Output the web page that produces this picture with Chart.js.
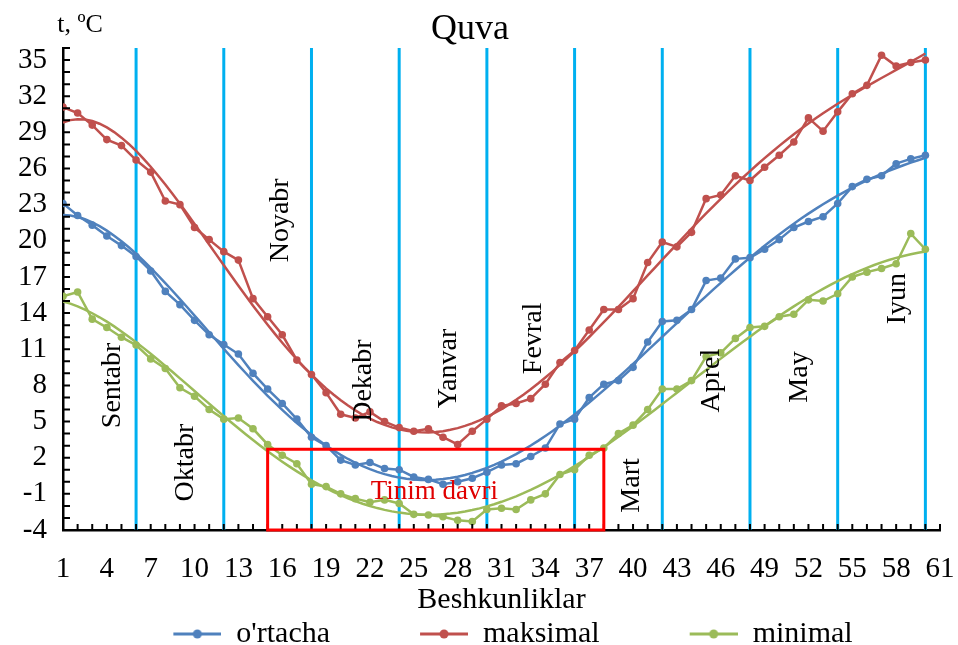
<!DOCTYPE html>
<html>
<head>
<meta charset="utf-8">
<title>Quva</title>
<script src="https://cdn.jsdelivr.net/npm/chart.js@4.4.1/dist/chart.umd.min.js"></script>
<style>
  html, body { margin: 0; padding: 0; background: #fff; overflow: hidden; }
  canvas { display: block; }
</style>
</head>
<body>
<canvas id="chart" width="958" height="659"></canvas>
<script>
// besh kunlik davrlar (1..60)
const periods = [1,2,3,4,5,6,7,8,9,10,11,12,13,14,15,16,17,18,19,20,
  21,22,23,24,25,26,27,28,29,30,31,32,33,34,35,36,37,38,39,40,
  41,42,43,44,45,46,47,48,49,50,51,52,53,54,55,56,57,58,59,60];

const ortacha = [23.1,22.1,21.3,20.4,19.6,18.7,17.5,15.8,14.7,13.4,
  12.2,11.4,10.6,9.0,7.7,6.5,5.2,3.7,3.0,1.8,
  1.4,1.6,1.1,1.0,0.4,0.2,-0.2,0.0,0.3,0.8,
  1.4,1.5,2.1,2.8,4.8,5.2,7.0,8.1,8.4,9.5,
  11.6,13.3,13.4,14.3,16.7,16.9,18.5,18.6,19.3,20.1,
  21.1,21.6,22.0,23.1,24.5,25.1,25.4,26.4,26.8,27.1];

const maksimal = [31.1,30.6,29.6,28.4,27.9,26.7,25.7,23.3,23.0,21.1,
  20.1,19.1,18.4,15.2,13.7,12.2,10.1,8.9,7.4,5.6,
  5.3,5.8,5.0,4.5,4.2,4.4,3.7,3.1,4.2,5.2,
  6.3,6.5,6.9,8.1,9.9,10.9,12.6,14.3,14.3,15.2,
  18.2,19.9,19.5,20.7,23.5,23.8,25.4,25.0,26.1,27.1,
  28.2,30.2,29.1,30.7,32.2,32.9,35.4,34.5,34.8,35.0];

const minimal = [15.4,15.75,13.5,12.8,12.0,11.35,10.2,9.4,7.8,7.1,
  6.0,5.2,5.3,4.4,3.1,2.2,1.5,-0.2,-0.4,-1.0,
  -1.4,-1.7,-1.5,-1.8,-2.7,-2.75,-2.9,-3.2,-3.3,-2.3,
  -2.2,-2.3,-1.5,-1.0,0.6,1.0,2.2,2.8,4.0,4.7,
  6.0,7.7,7.7,8.4,10.4,10.7,11.9,12.8,12.9,13.7,
  13.9,15.1,15.0,15.6,17.0,17.4,17.7,18.1,20.6,19.3];

const seriesNames = ["o'rtacha", 'maksimal', 'minimal'];
const xTickLabels = [1,4,7,10,13,16,19,22,25,28,31,34,37,40,43,46,49,52,55,58,61];
const yTickLabels = [-4,-1,2,5,8,11,14,17,20,23,26,29,32,35];

// oy chegaralari va oy nomlari
const monthBounds = [6,12,18,24,30,36,42,48,54,60];
const monthNames = ['Sentabr','Oktabr','Noyabr','Dekabr','Yanvar','Fevral','Mart','Aprel','May','Iyun'];
// tinim davri (beshkunliklar)
const restFrom = 15, restTo = 38, restTop = 2.7;

// --- ko'rinish ---
const colors = ['#4F81BD', '#C0504D', '#9BBB59'];
const monthLabelAt = [[4.4,8.0],[9.4,1.6],[15.9,21.7],[21.6,8.4],[27.4,9.4],[33.2,11.9],[39.9,-0.3],[45.4,8.4],[51.4,8.7],[58.1,15.2]];
const serif = "'Liberation Serif', 'Times New Roman', serif";

Chart.defaults.font.family = serif;
Chart.defaults.color = '#000';

function toPoints(values) {
  return periods.map((p, i) => ({x: p, y: values[i]}));
}

// Excel dagi polinomial trend chizig'i (eng kichik kvadratlar)
function polyTrend(values, deg) {
  const x0 = (periods[0] + periods[periods.length - 1]) / 2;
  const s = (periods[periods.length - 1] - periods[0]) / 2;
  const n = deg + 1;
  const A = [], b = [];
  for (let r = 0; r < n; r++) { A.push(new Array(n).fill(0)); b.push(0); }
  periods.forEach((p, i) => {
    const t = (p - x0) / s;
    const pw = [1];
    for (let k = 1; k < n; k++) pw.push(pw[k - 1] * t);
    for (let r = 0; r < n; r++) {
      for (let c = 0; c < n; c++) A[r][c] += pw[r] * pw[c];
      b[r] += pw[r] * values[i];
    }
  });
  for (let col = 0; col < n; col++) {
    let piv = col;
    for (let r = col + 1; r < n; r++) if (Math.abs(A[r][col]) > Math.abs(A[piv][col])) piv = r;
    [A[col], A[piv]] = [A[piv], A[col]];
    [b[col], b[piv]] = [b[piv], b[col]];
    for (let r = col + 1; r < n; r++) {
      const f = A[r][col] / A[col][col];
      for (let c = col; c < n; c++) A[r][c] -= f * A[col][c];
      b[r] -= f * b[col];
    }
  }
  const coef = new Array(n).fill(0);
  for (let r = n - 1; r >= 0; r--) {
    let sum = b[r];
    for (let c = r + 1; c < n; c++) sum -= A[r][c] * coef[c];
    coef[r] = sum / A[r][r];
  }
  const pts = [];
  for (let x = periods[0]; x <= periods[periods.length - 1]; x += 0.5) {
    const t = (x - x0) / s;
    let y = 0, pw = 1;
    for (let k = 0; k < n; k++) { y += coef[k] * pw; pw *= t; }
    pts.push({x: x, y: y});
  }
  return pts;
}

function legendIcon(color) {
  const c = document.createElement('canvas');
  c.width = 134; c.height = 12;
  const g = c.getContext('2d');
  g.strokeStyle = color; g.lineWidth = 3;
  g.beginPath(); g.moveTo(86, 6); g.lineTo(134, 6); g.stroke();
  g.fillStyle = color;
  g.beginPath(); g.arc(110, 6, 4.5, 0, Math.PI * 2); g.fill();
  return c;
}
const legendIcons = colors.map(legendIcon);

const seriesData = [ortacha, maksimal, minimal];
const datasets = [];
seriesData.forEach((vals, i) => {
  datasets.push({
    label: seriesNames[i],
    data: toPoints(vals),
    borderColor: colors[i],
    backgroundColor: colors[i],
    borderWidth: 2.5,
    pointRadius: 3.8,
    pointBorderWidth: 0,
    pointBackgroundColor: colors[i],
    tension: 0
  });
});
seriesData.forEach((vals, i) => {
  datasets.push({
    label: seriesNames[i] + ' trend',
    data: polyTrend(vals, 5),
    borderColor: colors[i],
    borderWidth: 2.5,
    pointRadius: 0,
    tension: 0
  });
});

const decorations = {
  id: 'decorations',
  beforeDatasetsDraw(chart) {
    const {ctx, chartArea: a, scales: {x, y}} = chart;
    ctx.save();
    ctx.strokeStyle = '#00B0F0';
    ctx.lineWidth = 3;
    monthBounds.forEach(m => {
      const px = x.getPixelForValue(m);
      ctx.beginPath(); ctx.moveTo(px, a.top); ctx.lineTo(px, a.bottom); ctx.stroke();
    });
    ctx.restore();
  },
  afterDatasetsDraw(chart) {
    const {ctx, chartArea: a, scales: {x, y}} = chart;
    ctx.save();
    // ichkariga qaragan belgilar
    ctx.strokeStyle = '#000';
    ctx.lineWidth = 2;
    ctx.beginPath();
    x.ticks.forEach(t => {
      const px = x.getPixelForValue(t.value);
      ctx.moveTo(px, a.bottom); ctx.lineTo(px, a.bottom - 6);
    });
    y.ticks.forEach(t => {
      const py = y.getPixelForValue(t.value);
      ctx.moveTo(a.left, py); ctx.lineTo(a.left + 7, py);
    });
    ctx.stroke();

    // tinim davri
    const rx1 = x.getPixelForValue(restFrom), rx2 = x.getPixelForValue(restTo);
    const ry1 = y.getPixelForValue(restTop), ry2 = y.getPixelForValue(-4);
    ctx.strokeStyle = '#FF0000';
    ctx.lineWidth = 3;
    ctx.strokeRect(rx1, ry1, rx2 - rx1, ry2 - ry1);
    ctx.fillStyle = '#E00000';
    ctx.font = '27px ' + serif;
    ctx.textAlign = 'center';
    ctx.textBaseline = 'middle';
    ctx.fillText('Tinim davri', x.getPixelForValue(26.4), y.getPixelForValue(-0.85));

    // oy nomlari
    ctx.fillStyle = '#000';
    ctx.font = '28px ' + serif;
    monthNames.forEach((name, i) => {
      ctx.save();
      ctx.translate(x.getPixelForValue(monthLabelAt[i][0]), y.getPixelForValue(monthLabelAt[i][1]));
      ctx.rotate(-Math.PI / 2);
      ctx.fillText(name, 0, 0);
      ctx.restore();
    });

    // o'q nomi
    ctx.font = '26px ' + serif;
    ctx.fillText('t, \u00BAC', a.left + 17, 25);
    ctx.restore();
  }
};

new Chart(document.getElementById('chart'), {
  type: 'line',
  data: {datasets: datasets},
  options: {
    responsive: false,
    animation: false,
    layout: {padding: {left: 0, right: 18, top: 0, bottom: 0}},
    plugins: {
      title: {
        display: true,
        text: 'Quva',
        font: {size: 36, weight: 'normal', lineHeight: 1},
        padding: {top: 12, bottom: 0},
        color: '#000'
      },
      legend: {
        position: 'bottom',
        labels: {
          usePointStyle: true,
          pointStyleWidth: 134,
          boxHeight: 12,
          padding: 4,
          font: {size: 30},
          color: '#000',
          generateLabels(chart) {
            return Chart.defaults.plugins.legend.labels.generateLabels(chart)
              .filter(item => item.datasetIndex < 3)
              .map(item => Object.assign(item, {pointStyle: legendIcons[item.datasetIndex]}));
          }
        }
      },
      tooltip: {enabled: false}
    },
    scales: {
      x: {
        type: 'linear',
        min: 1,
        max: 61,
        grid: {display: true, drawOnChartArea: false, drawTicks: true, tickLength: 22, tickColor: 'rgba(0,0,0,0)'},
        border: {display: true, color: '#000', width: 2.5},
        afterFit(scale) { scale.height = 85; },
        ticks: {
          stepSize: 1,
          autoSkip: false,
          maxRotation: 0,
          padding: 0,
          font: {size: 29},
          color: '#000',
          callback: v => xTickLabels.includes(v) ? String(v) : ''
        },
        title: {
          display: true,
          text: 'Beshkunliklar',
          font: {size: 30, lineHeight: 1},
          padding: {top: 0, bottom: 0},
          color: '#000'
        }
      },
      y: {
        min: -4,
        max: 36,
        grid: {display: true, drawOnChartArea: false, drawTicks: true, tickLength: 16, tickColor: 'rgba(0,0,0,0)'},
        border: {display: true, color: '#000', width: 2.5},
        afterFit(scale) { scale.width = 63; },
        ticks: {
          stepSize: 1,
          autoSkip: false,
          padding: 0,
          font: {size: 29},
          color: '#000',
          callback: v => yTickLabels.includes(v) ? String(v) : ''
        }
      }
    }
  },
  plugins: [decorations]
});
</script>
</body>
</html>
